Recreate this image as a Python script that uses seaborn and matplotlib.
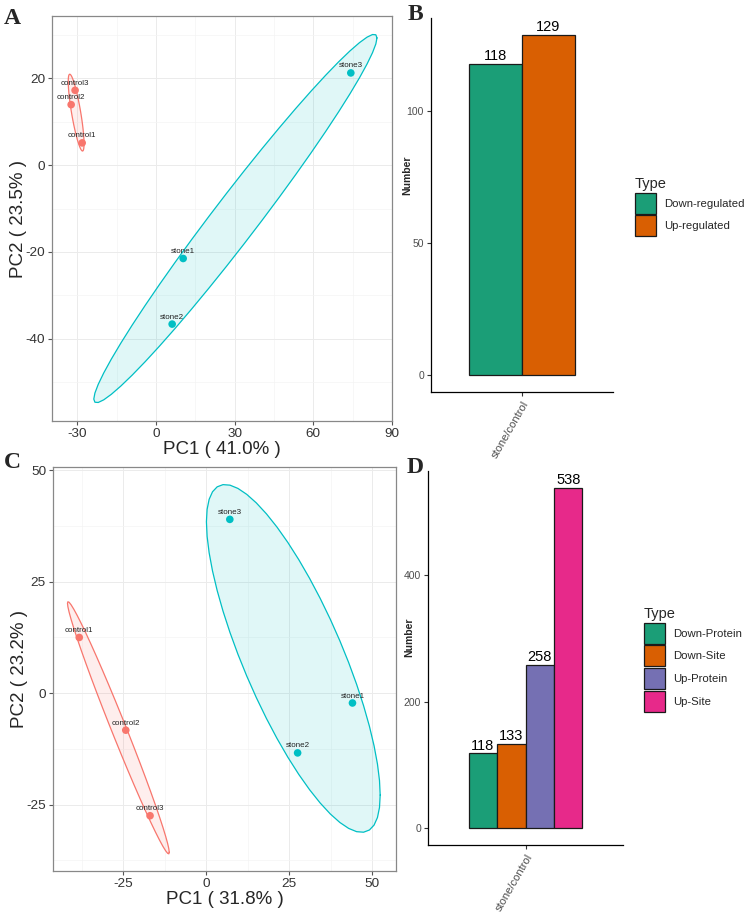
import numpy as np
import pandas as pd
import matplotlib
matplotlib.use('Agg')
import matplotlib.pyplot as plt
from matplotlib.patches import Patch
import seaborn as sns

# PCA scores
samples = ['control1', 'control2', 'control3', 'stone1', 'stone2', 'stone3']
groups = ['control', 'control', 'control', 'stone', 'stone', 'stone']
pc1_a = [-28.1, -32.3, -30.8, 10.4, 6.2, 74.3]
pc2_a = [5.1, 13.9, 17.2, -21.5, -36.6, 21.2]
pc1_c = [-38.2, -24.2, -16.9, 44.0, 27.5, 7.1]
pc2_c = [12.5, -8.3, -27.5, -2.2, -13.4, 39.0]

# differential counts
comparison = 'stone/control'
types_b = ['Down-regulated', 'Up-regulated']
counts_b = [118, 129]
types_d = ['Down-Protein', 'Down-Site', 'Up-Protein', 'Up-Site']
counts_d = [118, 133, 258, 538]

group_colors = {'control': '#F8766D', 'stone': '#00BFC4'}
dark2 = ['#1B9E77', '#D95F02', '#7570B3', '#E7298A']

sns.set_style('ticks')
plt.rcParams['font.family'] = ['Liberation Sans', 'DejaVu Sans']
plt.rcParams['axes.unicode_minus'] = False

W, H = 749, 913
fig = plt.figure(figsize=(W / 100, H / 100), dpi=100)


def box(left, top, right, bottom):
    return [left / W, (H - bottom) / H, (right - left) / W, (bottom - top) / H]


def ellipse_xy(x, y, level=0.5, segments=51):
    # normal-theory ellipse, like stat_ellipse
    pts = np.column_stack([x, y])
    center = pts.mean(axis=0)
    shape = np.cov(pts, rowvar=False)
    chol = np.linalg.cholesky(shape).T
    d = len(pts) - 1
    fq = d / 2 * ((1 - level) ** (-2 / d) - 1)   # F(2, d) quantile
    radius = np.sqrt(2 * fq)
    t = np.linspace(0, 2 * np.pi, segments)
    circle = np.column_stack([np.cos(t), np.sin(t)])
    return center + radius * circle @ chol


def pca_panel(ax, pc1, pc2, xlab, ylab, xlim, ylim, xmaj, ymaj):
    df = pd.DataFrame({'sample': samples, 'group': groups, 'PC1': pc1, 'PC2': pc2})
    for g, sub in df.groupby('group'):
        e = ellipse_xy(sub['PC1'].values, sub['PC2'].values)
        ax.fill(e[:, 0], e[:, 1], color=group_colors[g], alpha=0.12, lw=0, zorder=2)
        ax.plot(e[:, 0], e[:, 1], color=group_colors[g], lw=0.9, zorder=3)
    sns.scatterplot(data=df, x='PC1', y='PC2', hue='group', palette=group_colors,
                    s=30, edgecolor='none', legend=False, ax=ax, zorder=4)
    for _, r in df.iterrows():
        ax.annotate(r['sample'], (r['PC1'], r['PC2']), xytext=(0, 2.5),
                    textcoords='offset points', ha='center', va='bottom',
                    fontsize=5.8, color='#222222', zorder=5)
    xs = np.diff(xmaj)[0]
    ys = np.diff(ymaj)[0]
    xmin = np.arange(xmaj[0] - xs / 2, xlim[1], xs)
    ymin = np.arange(ymaj[0] - ys / 2, ylim[1], ys)
    ax.set_xticks(xmaj)
    ax.set_yticks(ymaj)
    ax.set_xticks(xmin[(xmin > xlim[0])], minor=True)
    ax.set_yticks(ymin[(ymin > ylim[0])], minor=True)
    ax.set_xlim(xlim)
    ax.set_ylim(ylim)
    ax.grid(which='major', color='#EBEBEB', lw=0.7)
    ax.grid(which='minor', color='#F4F4F4', lw=0.5)
    ax.set_axisbelow(True)
    ax.tick_params(which='minor', length=0)
    ax.tick_params(which='major', length=3, color='#555555', labelsize=9.7,
                   labelcolor='#333333', pad=2)
    for s in ax.spines.values():
        s.set_color('#888888')
        s.set_linewidth(0.9)
    ax.set_xlabel(xlab, fontsize=13.5, labelpad=1)
    ax.set_ylabel(ylab, fontsize=13.5, va='center')
    ax.yaxis.set_label_coords(-0.098, 0.5)


def bar_panel(ax, types, counts, ymax, yticks, label_y, label_x):
    df = pd.DataFrame({'Comparison': comparison, 'Type': types, 'Number': counts})
    pal = dark2[:len(types)]
    sns.barplot(data=df, x='Comparison', y='Number', hue='Type', palette=pal,
                width=0.7, saturation=1, edgecolor='#1a1a1a', linewidth=0.9,
                legend=False, ax=ax)
    for c in ax.containers:
        ax.bar_label(c, fontsize=10.5, padding=0.5, color='black')
    ax.set_xlim(-0.6, 0.6)
    ax.set_ylim(-0.05 * ymax, 1.05 * ymax)
    ax.set_yticks(yticks)
    sns.despine(ax=ax)
    for s in ['left', 'bottom']:
        ax.spines[s].set_color('black')
        ax.spines[s].set_linewidth(0.9)
    ax.tick_params(length=3, color='#333333', labelsize=7.5, labelcolor='#4D4D4D', pad=2)
    ax.tick_params(axis='x', labelsize=8)
    plt.setp(ax.get_xticklabels(), rotation=60, ha='right', rotation_mode='anchor')
    ax.set_xlabel('')
    ax.set_ylabel('Number', fontsize=7.5, fontweight='bold', va='center')
    ax.yaxis.set_label_coords(label_x, label_y)
    return pal


ax_a = fig.add_axes(box(52, 16, 392, 421))
pca_panel(ax_a, pc1_a, pc2_a, 'PC1 ( 41.0% )', 'PC2 ( 23.5% )',
          (-39.6, 90), (-58.9, 34.3), [-30, 0, 30, 60, 90], [-40, -20, 0, 20])

ax_c = fig.add_axes(box(53, 467, 396, 871))
pca_panel(ax_c, pc1_c, pc2_c, 'PC1 ( 31.8% )', 'PC2 ( 23.2% )',
          (-46.1, 57.1), (-39.9, 50.75), [-25, 0, 25, 50], [-25, 0, 25, 50])

ax_b = fig.add_axes(box(431, 18, 613, 392))
pal_b = bar_panel(ax_b, types_b, counts_b, max(counts_b), [0, 50, 100], 0.58, -0.132)

ax_d = fig.add_axes(box(428, 471, 623, 845))
pal_d = bar_panel(ax_d, types_d, counts_d, max(counts_d), [0, 200, 400], 0.556, -0.097)


def add_legend(ax, types, pal, x, y):
    handles = [Patch(facecolor=c, edgecolor='#1a1a1a', linewidth=0.9) for c in pal]
    leg = ax.legend(handles, types, title='Type', loc='upper left',
                    bbox_to_anchor=(x / W, 1 - y / H), bbox_transform=fig.transFigure,
                    frameon=False, fontsize=8.2, title_fontsize=10.5,
                    handlelength=1.85, handleheight=2.45, labelspacing=0.15,
                    handletextpad=0.7, borderaxespad=0, borderpad=0,
                    alignment='left')
    return leg


add_legend(ax_b, types_b, pal_b, 635, 177)
add_legend(ax_d, types_d, pal_d, 644, 607)

for letter, x, y in [('A', 12, 18), ('B', 415, 15), ('C', 12, 462), ('D', 415, 467)]:
    fig.text(x / W, 1 - y / H, letter, ha='center', va='center', fontsize=17,
             fontweight='bold', family='Liberation Serif')

fig.savefig('out.png', dpi=100)
